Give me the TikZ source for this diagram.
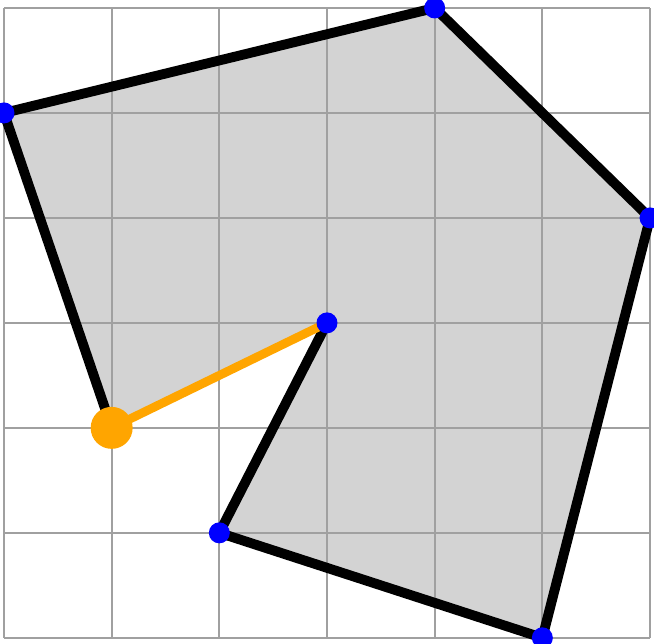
\documentclass[tikz,border=0pt]{standalone}
\usepackage{tikz}
\usetikzlibrary{positioning}
\usepackage{xcolor}
\definecolor{fillgray}{RGB}{211,211,211}
\definecolor{gridgray}{RGB}{160,160,160}
\definecolor{vorange}{RGB}{255,165,0}

\begin{document}
\begin{tikzpicture}[x=1.077cm,y=1.05cm,
  edge/.style={line width=2.8pt,line join=round},
  gridline/.style={gridgray,line width=0.6pt},
  vdot/.style={circle,fill=blue,inner sep=0pt,minimum size=2.1mm},
  odot/.style={circle,fill=vorange,inner sep=0pt,minimum size=4.2mm}]
\useasboundingbox (-0.037,-0.057) rectangle (6.037,6.076);
\coordinate (a) at (0,5);
\coordinate (b) at (4,6);
\coordinate (c) at (6,4);
\coordinate (d) at (5,0);
\coordinate (e) at (2,1);
\coordinate (f) at (3,3);
\coordinate (g) at (1,2);
\fill[fillgray] (a) -- (b) -- (c) -- (d) -- (e) -- (f) -- (g) -- cycle;
\foreach \i in {0,...,6} {
  \draw[gridline] (\i,0) -- (\i,6);
  \draw[gridline] (0,\i) -- (6,\i);
}
\draw[edge] (g) -- (a) -- (b) -- (c) -- (d) -- (e) -- (f);
\draw[vorange,line width=2.5pt] (f) -- (g);
\foreach \p in {a,b,c,d,e,f} \node[vdot] (dot\p) at (\p) {};
\node[odot] (dotg) at (g) {};
\end{tikzpicture}
\end{document}
